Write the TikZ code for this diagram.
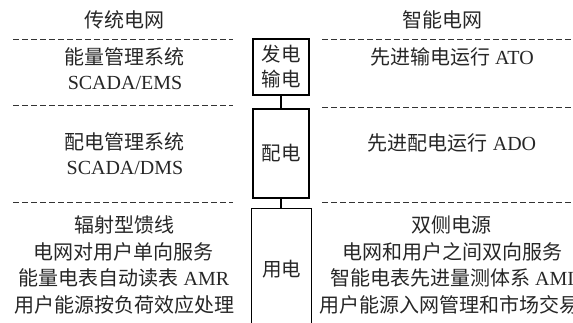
\documentclass[tikz,border=0pt]{standalone}
\usepackage{fontspec}
\setmainfont{Liberation Serif}
\newfontfamily\cjk{Noto Sans CJK SC}
\begin{document}
\begin{tikzpicture}[x=1pt,y=-1pt,
  txt/.style={inner sep=0pt, text=black!85, font=\fontsize{20}{24}\selectfont},
  sep/.style={dash pattern=on 6pt off 3pt, line width=0.9pt, black!80},
  stage/.style={line width=1.4pt, inner sep=0pt, align=center, text=black!85,
                font=\fontsize{19.5}{25}\selectfont\cjk}]
\useasboundingbox (0,0) rectangle (573,322);

% headings
\node[txt] (hl) at (124,20) {\cjk 传统电网};
\node[txt] (hr) at (442,20) {\cjk 智能电网};

% separators
\draw[sep] (13,39) -- (233,39);
\draw[sep] (322,39) -- (573,39);
\draw[sep] (13,105) -- (233,105);
\draw[sep] (322,107) -- (573,107);
\draw[sep] (13,202) -- (233,202);
\draw[sep] (322,202) -- (573,202);

% left column
\node[txt] (l1a) at (124,57) {\cjk 能量管理系统};
\node[txt] (l1b) at (125,83) {SCADA/EMS};
\node[txt] (l2a) at (124,142) {\cjk 配电管理系统};
\node[txt] (l2b) at (125,168) {SCADA/DMS};
\node[txt] (l3a) at (124,225) {\cjk 辐射型馈线};
\node[txt] (l3b) at (124,252) {\cjk 电网对用户单向服务};
\node[txt] (l3c) at (124,278) {{\cjk 能量电表自动读表} AMR};
\node[txt] (l3d) at (124,305) {\cjk 用户能源按负荷效应处理};

% right column
\node[txt] (r1) at (452,57) {{\cjk 先进输电运行} ATO};
\node[txt] (r2) at (452,143) {{\cjk 先进配电运行} ADO};
\node[txt] (r3a) at (451,225) {\cjk 双侧电源};
\node[txt] (r3b) at (452,252) {\cjk 电网和用户之间双向服务};
\node[txt] (r3c) at (452,278) {{\cjk 智能电表先进量测体系} AMI};
\node[txt] (r3d) at (449,305) {\cjk 用户能源入网管理和市场交易};

% middle stages
\node[stage, draw, minimum width=56pt, minimum height=56pt] (b1) at (281,67) {发电\\输电};
\node[stage, draw, minimum width=56pt, minimum height=89pt] (b2) at (281,153.5) {配电};
\node[stage, minimum width=59pt, minimum height=121pt] (b3) at (281.5,269.5) {用电};
\draw[line width=1.4pt] (b3.south west) |- (b3.north east) -- (b3.south east);

\draw[line width=1.4pt] (b1.south) -- (b2.north);
\draw[line width=1.4pt] (b2.south) -- (b2.south |- b3.north);
\end{tikzpicture}
\end{document}
